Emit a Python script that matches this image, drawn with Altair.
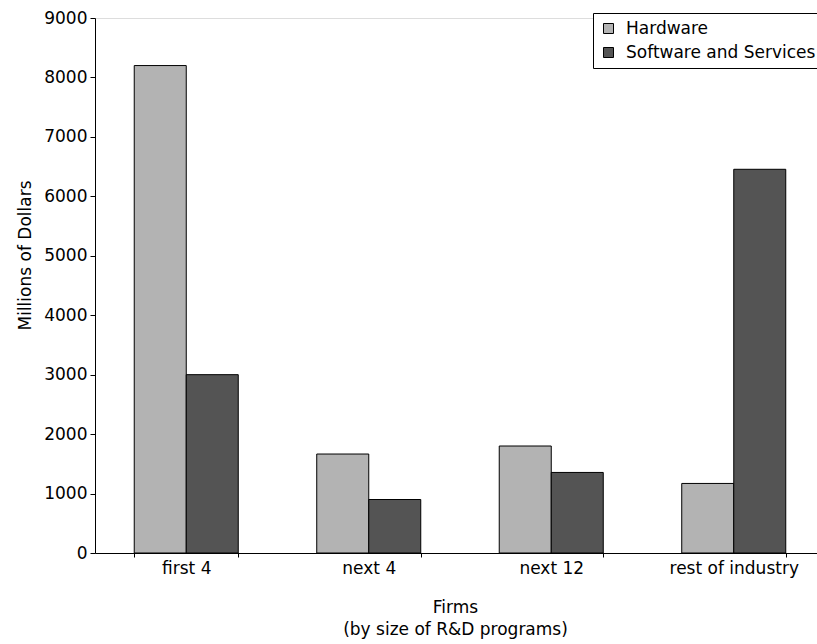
import altair as alt
import pandas as pd

# R&D spending by firm group, split into hardware and software/services
groups = ["first 4", "next 4", "next 12", "rest of industry"]
series = ["Hardware", "Software and Services"]
hardware = [8200, 1665, 1800, 1170]
software = [3000, 900, 1355, 6455]

rows = []
for g, h, s in zip(groups, hardware, software):
    rows.append({"group": g, "series": series[0], "value": h})
    rows.append({"group": g, "series": series[1], "value": s})
df = pd.DataFrame(rows)

FONT = "DejaVu Sans"

bars = alt.Chart(df).mark_bar(stroke="black", strokeWidth=1).encode(
    x=alt.X(
        "group:N",
        sort=groups,
        scale=alt.Scale(range=[0, 730], paddingInner=0.43, paddingOuter=0.215),
        axis=alt.Axis(
            title=["Firms", "(by size of R&D programs)"],
            labelAngle=0,
            tickBand="extent",
            tickSize=4,
            labelPadding=3,
            labelFontSize=17,
            labelFont=FONT,
            labelColor="black",
            titleFontSize=17,
            titleFont=FONT,
            titleFontWeight="normal",
            titleColor="black",
            titleLineHeight=22,
            titleBaseline="alphabetic",
            titleX=360,
            titleY=59,
            domainColor="black",
            tickColor="black",
        ),
    ),
    xOffset=alt.XOffset("series:N", sort=series,
                        scale=alt.Scale(paddingInner=0, paddingOuter=0)),
    y=alt.Y(
        "value:Q",
        scale=alt.Scale(domain=[0, 9000], nice=False),
        axis=alt.Axis(
            title="Millions of Dollars",
            values=list(range(0, 9001, 1000)),
            format="d",
            grid=False,
            tickSize=5,
            labelPadding=3,
            labelFontSize=17,
            labelFont=FONT,
            labelColor="black",
            titleFontSize=17,
            titleFont=FONT,
            titleFontWeight="normal",
            titleColor="black",
            titleAngle=-90,
            titleAlign="center",
            titleBaseline="middle",
            titleX=-70,
            titleY=237,
            domainColor="black",
            tickColor="black",
        ),
    ),
    color=alt.Color(
        "series:N",
        sort=series,
        scale=alt.Scale(domain=series, range=["#b3b3b3", "#545454"]),
        legend=alt.Legend(
            title=None,
            orient="none",
            legendX=498,
            legendY=-5,
            strokeColor="black",
            fillColor="white",
            padding=7,
            symbolType="square",
            symbolSize=100,
            symbolStrokeColor="black",
            symbolStrokeWidth=1,
            labelFontSize=17,
            labelFont=FONT,
            labelColor="black",
            labelLimit=400,
            labelOffset=9,
            rowPadding=6,
        ),
    ),
)

chart = bars.properties(
    width=722,
    height=535,
    autosize=alt.AutoSizeParams(type="none"),
    padding={"left": 95, "top": 18, "right": 0, "bottom": 91},
).configure_view(stroke=None).configure(background="white")

chart.save("out.html", embed_options={"renderer": "svg", "actions": False})
